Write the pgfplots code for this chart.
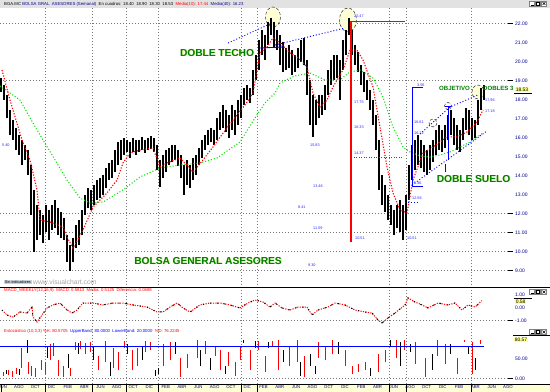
\documentclass[border=0pt]{standalone}
\usepackage{pgfplots}
\usepackage{pgfplotstable}
\pgfplotsset{compat=1.18}
\usepackage{fontspec}
\setmainfont{Liberation Sans}
\definecolor{navy}{RGB}{0,0,150}
\definecolor{dgreen}{RGB}{0,128,0}
\definecolor{halo}{RGB}{190,230,90}
\definecolor{lgreen}{RGB}{0,225,0}
\definecolor{gridc}{RGB}{120,120,120}
\definecolor{stripc}{RGB}{255,255,214}
\definecolor{barc}{RGB}{226,226,226}
\definecolor{boxc}{RGB}{255,255,140}
\definecolor{fibo}{RGB}{40,40,255}
\definecolor{circ}{RGB}{255,255,215}
\definecolor{btn}{RGB}{200,210,220}

\pgfplotstableread{
x hi lo
1 19.12 18.38
4 18.75 17.96
7 18.23 17.02
10 17.44 16.12
13 16.91 15.86
16 16.49 15.33
19 16.12 15.07
22 15.86 14.54
25 15.59 14.81
28 15.33 14.02
31 14.54 11.91
34 13.23 9.96
37 12.44 10.59
40 12.17 10.86
43 11.91 10.44
46 12.44 11.02
49 12.17 10.59
52 12.44 11.12
55 12.70 11.23
58 12.28 10.86
61 12.07 10.70
64 11.75 10.59
67 10.86 9.44
70 10.33 8.96
73 10.70 9.44
76 11.38 10.17
79 11.65 10.33
82 12.17 10.86
85 12.96 11.91
88 13.33 12.28
91 13.23 12.17
94 13.49 12.44
97 13.75 12.70
100 13.86 12.81
103 14.02 12.96
106 14.38 13.33
109 14.65 13.75
112 14.81 13.86
115 15.33 14.17
118 15.75 14.54
121 15.86 14.81
124 15.96 15.07
127 15.86 15.23
130 15.75 14.91
133 15.96 15.23
136 15.86 15.07
139 15.86 15.23
142 16.02 15.33
145 15.86 15.17
148 15.96 15.33
151 16.07 15.38
154 15.96 15.23
157 15.59 14.28
160 14.81 13.38
163 15.07 13.86
166 15.33 14.17
169 15.44 14.54
172 15.59 14.70
175 15.59 14.81
178 15.33 14.49
181 15.07 13.86
184 14.54 12.96
187 14.81 13.49
190 14.54 13.33
193 14.91 13.75
196 15.07 14.02
199 15.44 14.54
202 15.86 14.91
205 16.12 15.33
208 16.38 15.59
211 16.49 15.75
214 16.38 15.59
217 17.02 15.86
220 17.33 16.38
223 17.70 16.49
226 17.44 16.28
229 17.17 15.96
232 17.70 16.38
235 17.44 16.12
238 17.96 16.65
241 18.23 17.02
244 18.59 17.70
247 18.75 17.96
250 18.59 17.81
253 19.54 18.23
256 20.33 19.02
259 21.12 19.54
262 21.65 20.33
265 21.38 20.07
268 22.07 20.86
271 22.28 21.38
274 22.07 20.70
277 21.65 20.59
280 21.38 19.81
283 21.02 19.44
286 20.70 19.54
289 20.86 19.65
292 20.59 19.28
295 20.33 19.44
298 20.70 19.65
301 21.12 19.96
304 21.23 19.81
307 20.07 18.23
310 19.02 16.65
313 18.23 16.02
316 17.96 16.65
319 18.23 17.02
322 18.23 17.17
325 18.75 17.44
328 19.54 18.23
331 20.07 18.75
334 20.33 19.02
337 20.33 19.12
340 20.07 17.96
343 21.12 19.54
346 21.65 20.33
349 22.28 21.38
352 21.65 20.33
355 20.86 19.81
358 20.49 19.44
361 19.81 18.75
364 19.44 18.38
367 19.02 17.96
370 18.49 17.44
373 17.96 16.65
376 17.17 15.33
379 15.86 13.23
382 14.02 12.44
385 13.49 12.07
388 12.96 11.65
391 12.44 11.38
394 12.17 10.86
397 12.44 11.23
400 12.70 11.02
403 12.44 10.59
406 12.96 11.12
409 14.54 12.70
412 15.59 13.75
415 15.86 14.28
418 16.12 14.54
421 15.86 14.38
424 15.59 14.17
427 15.33 14.02
430 15.59 14.28
433 15.86 14.70
436 16.38 15.07
439 16.65 15.33
442 16.38 15.23
445 16.65 15.44
448 17.17 15.86
451 17.44 16.12
454 17.02 15.59
457 16.65 15.33
460 16.38 15.23
463 17.02 15.86
466 17.54 16.38
469 17.44 16.12
472 17.02 15.86
475 16.91 15.96
478 17.96 16.65
481 18.59 17.44
484 18.75 17.96
}\pricedata

\pgfplotstableread{
x p
2 19.54
10 17.96
22 15.86
30 14.81
37 13.23
40 11.65
50 11.54
63 11.28
67 10.75
73 10.17
83 11.12
93 12.33
107 13.07
117 13.75
123 14.65
130 15.17
140 15.33
153 15.44
160 14.44
167 14.65
180 14.91
193 14.17
203 14.81
213 15.49
218 15.86
233 16.91
245 17.70
253 18.33
260 20.44
267 20.75
273 21.23
280 20.96
290 20.44
297 20.23
307 19.70
313 18.33
320 17.59
327 17.96
333 18.65
343 19.54
350 20.59
357 20.59
363 20.07
373 18.65
380 16.54
387 14.44
393 13.07
400 12.17
407 12.02
413 13.75
423 15.17
433 15.49
447 16.02
457 16.02
467 16.28
477 16.80
483 17.44
}\mashort

\pgfplotstableread{
x p
0 18.70
20 17.96
33 16.75
43 15.86
55 14.81
67 13.75
80 12.80
90 12.54
103 12.59
123 13.23
140 13.91
160 14.38
180 14.54
200 14.65
217 14.91
240 15.75
255 17.02
265 17.81
275 18.33
280 18.86
295 19.23
310 19.38
325 19.02
340 19.02
350 19.44
360 19.54
373 19.12
383 18.12
393 16.54
403 15.49
410 15.23
420 15.02
430 14.96
440 15.07
450 15.23
460 15.49
470 15.75
483 16.23
}\malong

\pgfplotstableread{
x v
2 -0.18
7 -0.56
13 -0.72
20 -0.33
27 -0.41
32 0.05
33 -0.72
37 -1.10
42 -0.56
47 -0.02
53 0.21
60 0.36
67 -0.18
72 -0.41
77 -0.18
83 0.36
93 0.36
103 0.21
113 0.36
123 0.36
133 0.21
147 0.05
157 -0.33
163 -0.33
170 0.05
177 0.36
183 -0.02
190 -0.33
200 0.21
210 0.36
220 0.36
230 0.21
240 -0.02
248 0.36
255 0.59
263 0.44
270 0.05
275 0.36
282 -0.02
290 -0.18
298 0.05
307 0.05
312 -0.56
318 -0.18
328 0.05
335 0.36
345 0.21
355 -0.18
365 -0.33
372 -0.41
378 -0.95
382 -1.18
388 -0.79
395 -0.41
405 0.21
408 0.75
415 0.44
422 0.21
428 -0.02
438 0.36
448 0.21
455 0.36
462 -0.18
468 0.21
475 0.05
482 0.55
}\osc

\pgfplotstableread{
x lo hi
3 5 15
8 8 20
12 4 18
16 10 25
21 25 75
28 10 40
31 5 30
35 3 25
41 20 45
45 10 40
50 45 85
53 55 88
58 5 45
63 4 30
70 5 25
75 70 90
80 72 92
85 60 88
90 65 90
98 20 55
105 40 92
113 25 75
118 20 65
124 75 92
132 20 70
137 30 75
145 65 92
150 70 90
163 30 85
170 45 90
180 4 50
187 25 60
197 50 95
205 60 92
215 55 80
220 20 70
228 30 66
235 5 40
240 45 80
250 20 70
258 70 92
265 15 55
272 80 92
278 20 95
289 30 80
297 40 95
304 3 55
318 50 90
325 45 80
332 60 95
345 30 70
352 10 30
358 15 35
365 20 40
378 15 60
385 40 70
396 50 95
404 70 95
415 35 90
425 4 50
437 55 95
445 35 85
457 10 50
464 90 95
472 10 90
480 85 95
}\stored

\pgfplotstableread{
x lo hi
6 10 20
19 8 22
27 63 96
47 50 80
68 25 60
78 60 88
93 45 80
110 5 40
127 60 85
142 45 80
155 5 20
158 10 25
175 60 90
200 30 70
210 20 50
225 10 30
243 87 96
255 75 92
268 75 90
283 40 70
300 5 40
310 30 60
315 10 30
338 60 90
370 5 25
390 80 95
400 30 90
410 65 85
432 20 60
450 60 85
468 60 80
475 20 50
}\stoblack

\pgfplotsset{
  panel/.style={
    anchor=south west, scale only axis, width=512bp,
    xmin=0, xmax=512, axis line style={draw=none},
    major tick length=0pt, ytick pos=right, yticklabel pos=right,
    yticklabel style={font=\fontsize{5}{5}\selectfont, text=navy, anchor=west,
      inner sep=0pt, xshift=3bp,
      /pgf/number format/.cd, fixed, fixed zerofill, precision=2, assume math mode=true},
  },
}

\begin{document}
\begin{tikzpicture}
\path[use as bounding box] (0,0) rectangle (550bp,392bp);
\fill[white] (0,0) rectangle (550bp,392bp);
\begin{scope}[shift={(0,392bp)}, x=1bp, y=-1bp]
  \fill[barc] (0,0) rectangle (550,8);
  \fill[stripc] (0,384) rectangle (550,392);
  \foreach \gx in {45.7,92.3,126.7,158.3,241,257.7,389.3,406,471.7}{
    \draw[gridc, line width=0.6bp, dash pattern=on 0.8bp off 2.2bp] (\gx,8) -- (\gx,384);
  }
  \foreach \gy in {23.3,80.3,213.3,232.3,251.3,270.3,320.7,378.3}{
    \draw[gridc, line width=0.6bp, dash pattern=on 0.8bp off 2.2bp] (0,\gy) -- (508,\gy);
    \draw[black, line width=0.5bp] (508,\gy) -- (513,\gy);
  }
  % highlighted tops
  \draw[black, line width=0.4bp, densely dashed, fill=circ] (273,17) ellipse [x radius=7.5, y radius=10];
  \draw[black, line width=0.4bp, densely dashed, fill=circ] (348,20) ellipse [x radius=8.5, y radius=12];
  \draw[black, line width=0.4bp, densely dashed, fill=circ] (478,92) ellipse [x radius=6, y radius=7];
\end{scope}

% ---------------- price panel
\begin{axis}[panel, at={(0,105bp)}, height=279bp,
  ymin=8.121, ymax=22.805, xtick=\empty, ytick={9,10,...,22}]
\addplot[draw=none, mark=none, forget plot,
  error bars/.cd, y dir=minus, y explicit, error mark=none,
  error bar style={draw=black, line width=2bp}]
  table[x=x, y=hi, y error minus expr=\thisrow{hi}-\thisrow{lo}] {\pricedata};
\addplot[lgreen, line width=1.1bp, dash pattern=on 1bp off 2bp] table[x=x,y=p] {\malong};
\addplot[red, line width=1.1bp, dash pattern=on 1.2bp off 1.6bp] table[x=x,y=p] {\mashort};
\end{axis}

% ---------------- oscillator panel
\begin{axis}[panel, at={(0,67bp)}, height=38bp,
  ymin=-1.331, ymax=1.592, xtick=\empty, ytick={-1,0,1}]
\addplot[red, line width=1bp, dash pattern=on 1.2bp off 1.3bp] table[x=x,y=v] {\osc};
\addplot[black, line width=1bp, dash pattern=on 1.2bp off 6bp] table[x=x,y=v] {\osc};
\end{axis}

% ---------------- stochastic panel
\begin{axis}[panel, at={(0,8bp)}, height=59bp,
  ymin=-14.25, ymax=133.25, ytick={0,50},
  xtick={2.7,19.0,35.3,51.6,67.9,84.2,100.5,116.8,133.1,149.4,165.7,182.0,198.3,214.6,230.9,247.2,263.5,279.8,296.1,312.4,328.7,345.0,361.3,377.6,393.9,410.2,426.5,442.8,459.1,475.4,491.7,508.0},
  xticklabels={JUN,AGO,OCT,DIC,FEB,ABR,JUN,AGO,OCT,DIC,FEB,ABR,JUN,AGO,OCT,DIC,FEB,ABR,JUN,AGO,OCT,DIC,FEB,ABR,JUN,AGO,OCT,DIC,FEB,ABR,JUN,AGO},
  xticklabel style={font=\fontsize{4.3}{4.3}\selectfont, text=navy, inner sep=0pt, yshift=-1.6bp},
  xtick pos=bottom]
\addplot[draw=none, mark=none, forget plot,
  error bars/.cd, y dir=minus, y explicit, error mark=none,
  error bar style={draw=red, line width=1bp}]
  table[x=x, y=hi, y error minus expr=\thisrow{hi}-\thisrow{lo}] {\stored};
\addplot[draw=none, mark=none, forget plot,
  error bars/.cd, y dir=minus, y explicit, error mark=none,
  error bar style={draw=black, line width=1bp}]
  table[x=x, y=hi, y error minus expr=\thisrow{hi}-\thisrow{lo}] {\stoblack};
\addplot[blue, line width=1.3bp] coordinates {(0,80) (484,80)};
\end{axis}

% ---------------- annotations
\begin{scope}[shift={(0,392bp)}, x=1bp, y=-1bp]
  \draw[black, line width=0.8bp] (0,287) -- (550,287);
  \draw[black, line width=0.8bp] (0,384) -- (550,384);
  \foreach \gx in {1.7,45.7,92.3,126.7,158.3,241,257.7,389.3,406,471.7}{
    \draw[black, line width=0.7bp] (\gx,384) -- (\gx,392);
  }
  % red and blue chart drawings
  \draw[red, line width=1.1bp] (351,242) -- (351,21.7) -- (405,21.7);
  \draw[red, line width=0.9bp, dash pattern=on 1bp off 1.5bp] (351,157) -- (403,157);
  \draw[blue, line width=0.9bp, dash pattern=on 1bp off 2bp] (228,43) -- (272,23);
  \draw[blue, line width=0.9bp, dash pattern=on 1bp off 2bp] (275,45) -- (345,28);
  \draw[blue, line width=0.9bp] (260,48) -- (283,47);
  \draw[blue, line width=1bp] (423,88) -- (412,88) -- (412,187) -- (423,187);
  \draw[blue, line width=1bp] (445,107) -- (451,107);
  \draw[blue, line width=1bp] (448,107) -- (448,160);
  \draw[blue, line width=1bp] (445,164) -- (445,172);
  \draw[blue, line width=0.9bp, dash pattern=on 1bp off 2bp] (412,185) -- (487,131);
  \draw[blue, line width=0.9bp, dash pattern=on 1bp off 2bp] (420,134) -- (450,107) -- (478,95);
  \draw[blue, line width=0.9bp, dash pattern=on 1bp off 2bp] (405,202) -- (420,202);
  \draw[black, line width=0.4bp, densely dashed] (433,123) circle [radius=4];
  \draw[black, line width=0.4bp, densely dashed] (448,106) circle [radius=3.5];
  % small level labels
  \begin{scope}[every node/.style={font=\fontsize{3.8}{3.8}\selectfont, text=fibo, inner sep=0pt, anchor=west}]
    \node at (2,145) {5.40};
    \node at (354,16) {22.47};
    \node at (354,102) {17.75};
    \node at (354,127) {16.33};
    \node at (354,153) {14.37};
    \node at (355,238) {10.51};
    \node at (310,145) {15.83};
    \node at (313,186) {13.46};
    \node at (298,207) {8.41};
    \node at (313,228) {11.59};
    \node at (308,265) {9.30};
    \node at (407,238) {10.51};
    \node at (417,85) {3.56};
    \node at (414,122) {16.61};
    \node at (414,133) {16.12};
    \node at (414,183) {5.46};
    \node at (412,198) {12.56};
    \node at (485,100) {17.96};
    \node at (485,111) {17.18};
  \end{scope}
  % big labels
  \node[font=\fontsize{10.2}{10.2}\bfseries, text=halo, inner sep=0pt] at (217.5,53.5) {DOBLE TECHO};
  \node[font=\fontsize{10.2}{10.2}\bfseries, text=halo, inner sep=0pt] at (208.5,261.5) {BOLSA GENERAL ASESORES};
  \node[font=\fontsize{10.2}{10.2}\bfseries, text=halo, inner sep=0pt] at (474,179.5) {DOBLE SUELO};
  \node[font=\fontsize{10.2}{10.2}\bfseries, text=dgreen, inner sep=0pt] at (217,53) {DOBLE TECHO};
  \node[font=\fontsize{10.2}{10.2}\bfseries, text=dgreen, inner sep=0pt] at (208,261) {BOLSA GENERAL ASESORES};
  \node[font=\fontsize{10.2}{10.2}\bfseries, text=dgreen, inner sep=0pt] at (473.5,179) {DOBLE SUELO};
  \node[font=\fontsize{6.1}{6.1}\bfseries, text=dgreen, inner sep=0pt] at (454.5,88.5) {OBJETIVO};
  \node[font=\fontsize{6.1}{6.1}\bfseries, text=dgreen, inner sep=0pt, anchor=west] at (483,88.5) {DOBLES 3};
  % current value boxes
  \node[font=\fontsize{5}{5}\selectfont, fill=boxc, inner sep=0.6bp, anchor=west] at (515,89.5) {18.53};
  \draw[black, line width=0.6bp] (514,93) -- (532,93);
  \draw[black, line width=0.6bp] (514,298.3) -- (532,298.3);
  \node[font=\fontsize{5}{5}\selectfont, fill=boxc, inner sep=0.6bp, anchor=west] at (515,301.7) {0.58};
  \draw[black, line width=0.6bp] (513,335) -- (550,335);
  \node[font=\fontsize{5}{5}\selectfont, fill=boxc, inner sep=0.6bp, anchor=west] at (514,340) {80.57};
  % window buttons
  \foreach \by in {3.5,292,332}{
    \foreach \bx in {532,538,544}{
      \draw[gray, line width=0.3bp, fill=white] (\bx-2.5,\by-2.5) rectangle (\bx+2.5,\by+2.5);
    }
    \draw[black, line width=0.4bp] (530.5,\by+1.5) -- (533.5,\by+1.5);
    \draw[black, line width=0.4bp] (536.5,\by-1.5) rectangle (539.5,\by+1.5);
    \draw[black, line width=0.4bp] (542.5,\by-1.5) -- (545.5,\by+1.5) (542.5,\by+1.5) -- (545.5,\by-1.5);
  }
  % headers
  \node[font=\fontsize{4.3}{4.3}\selectfont, inner sep=0pt, anchor=west] at (4,4)
    {BGA.MC \textcolor{navy}{BOLSA GRAL. ASESORES (Semanal)} \ En cuadros: 18.40 \ 18.90 \ 18.30 \ 18.53 \ \textcolor{red}{Media(10): 17.44} \ \textcolor{navy}{Media(40): 16.23}};
  \node[font=\fontsize{4.3}{4.3}\selectfont, text=red, inner sep=0pt, anchor=west] at (4,290.7)
    {MACD\_WEEKLY(12,26,9) \ MACD: 0.5813 \ Media: 0.5125 \ Diferencia: 0.0688};
  \node[font=\fontsize{4.3}{4.3}\selectfont, inner sep=0pt, anchor=west] at (4,331)
    {\textcolor{red}{Estoc\'astico (10,3,3) \%K: 80.5705} \ \textcolor{blue}{UpperBand: 80.0000 \ LowerBand: 20.0000} \ \textcolor{red}{\%D: 76.2245}};
  \node[font=\fontsize{3.8}{3.8}\selectfont, fill=btn, inner sep=0.8bp, anchor=west] at (4,282) {Sin indicadores};
  \node[font=\fontsize{6.8}{6.8}\selectfont, text=gray!70, inner sep=0pt, anchor=west] at (33,282) {www.visualchart.com};
\end{scope}
\end{tikzpicture}
\end{document}
